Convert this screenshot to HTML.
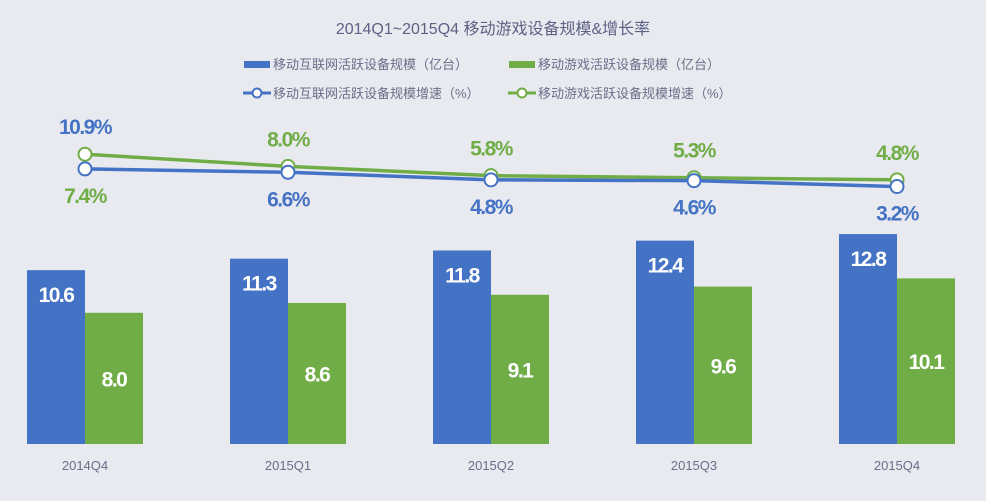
<!DOCTYPE html>
<html><head><meta charset="utf-8"><style>
body{margin:0;background:#e9eaf0;}
svg{display:block;font-family:"Liberation Sans","Noto Sans CJK SC",sans-serif;}
.val{font-weight:bold;font-size:21px;letter-spacing:-1.5px;text-anchor:middle;}
</style></head><body>
<svg id="chart" width="986" height="501" viewBox="0 0 986 501">
<rect x="0" y="0" width="986" height="501" fill="#e9eaf0"/>
<text x="493" y="34" text-anchor="middle" font-size="16" fill="#5d6184">2014Q1~2015Q4 移动游戏设备规模&amp;增长率</text>
<g font-size="13" fill="#6a6e88">
<rect x="244" y="61" width="26" height="7" fill="#4472c4"/>
<text x="273" y="69">移动互联网活跃设备规模（亿台）</text>
<rect x="509" y="61" width="26" height="7" fill="#70ad47"/>
<text x="538" y="69">移动游戏活跃设备规模（亿台）</text>
<line x1="243" y1="93" x2="271" y2="93" stroke="#4472c4" stroke-width="3"/>
<circle cx="257" cy="93" r="4.5" fill="#fff" stroke="#4472c4" stroke-width="2"/>
<text x="273" y="98">移动互联网活跃设备规模增速（%）</text>
<line x1="508" y1="93" x2="536" y2="93" stroke="#70ad47" stroke-width="3"/>
<circle cx="522" cy="93" r="4.5" fill="#fff" stroke="#70ad47" stroke-width="2"/>
<text x="538" y="98">移动游戏活跃设备规模增速（%）</text>
</g>
<g id="plot"></g>
</svg>
<script>
const categories = ["2014Q4","2015Q1","2015Q2","2015Q3","2015Q4"];
const internetDevices = [10.6,11.3,11.8,12.4,12.8];
const gameDevices = [8.0,8.6,9.1,9.6,10.1];
const internetGrowth = [7.4,6.6,4.8,4.6,3.2];
const gameGrowth = [10.9,8.0,5.8,5.3,4.8];

const NS="http://www.w3.org/2000/svg";
const plot=document.getElementById('plot');
const BLUE="#4472c4", GREEN="#70ad47";
const baseY=444, barScale=16.4, barW=58;
function xC(i){return 85+i*203;}
function yBar(v){return baseY-v*barScale;}
function yLine(v){return 200-v*4.2;}
function mk(tag,attrs){const e=document.createElementNS(NS,tag);for(const k in attrs)e.setAttribute(k,attrs[k]);plot.appendChild(e);return e;}

categories.forEach((c,i)=>{
  const b=mk('rect',{x:xC(i)-barW,y:yBar(internetDevices[i]),width:barW,height:internetDevices[i]*barScale,fill:BLUE});
  
  
  const g=mk('rect',{x:xC(i),y:yBar(gameDevices[i]),width:barW,height:gameDevices[i]*barScale,fill:GREEN});
  
  
  const t1=mk('text',{x:xC(i)-barW/2,y:yBar(internetDevices[i])+32,class:'val',fill:'#fff'});
  t1.textContent=internetDevices[i].toFixed(1);
  
  
  const t2=mk('text',{x:xC(i)+barW/2,y:(yBar(gameDevices[i])+baseY)/2+8,class:'val',fill:'#fff'});
  t2.textContent=gameDevices[i].toFixed(1);
  
  
  const cl=mk('text',{x:xC(i),y:470,'text-anchor':'middle','font-size':13,fill:'#6a6e88'});
  cl.textContent=c;
  
  
});

function series(vals,color,name,above){
  const pts=vals.map((v,i)=>xC(i)+','+yLine(v)).join(' ');
  const pl=mk('polyline',{points:pts,fill:'none',stroke:color,'stroke-width':3.5});
  
  
  vals.forEach((v,i)=>{
    const c=mk('circle',{cx:xC(i),cy:yLine(v),r:6.5,fill:'#fff',stroke:color,'stroke-width':2});
    
    
    const other = color===BLUE?GREEN:BLUE;
    const col = i===0?other:color;
    const y = above? yLine(v)-20 : yLine(v)+34;
    const t=mk('text',{x:xC(i),y:y,class:'val',fill:col});
    t.textContent=v.toFixed(1)+'%';
    
    
  });
}
series(gameGrowth,GREEN,'mobile-game-growth',true);
series(internetGrowth,BLUE,'mobile-internet-growth',false);
</script>
</body></html>
